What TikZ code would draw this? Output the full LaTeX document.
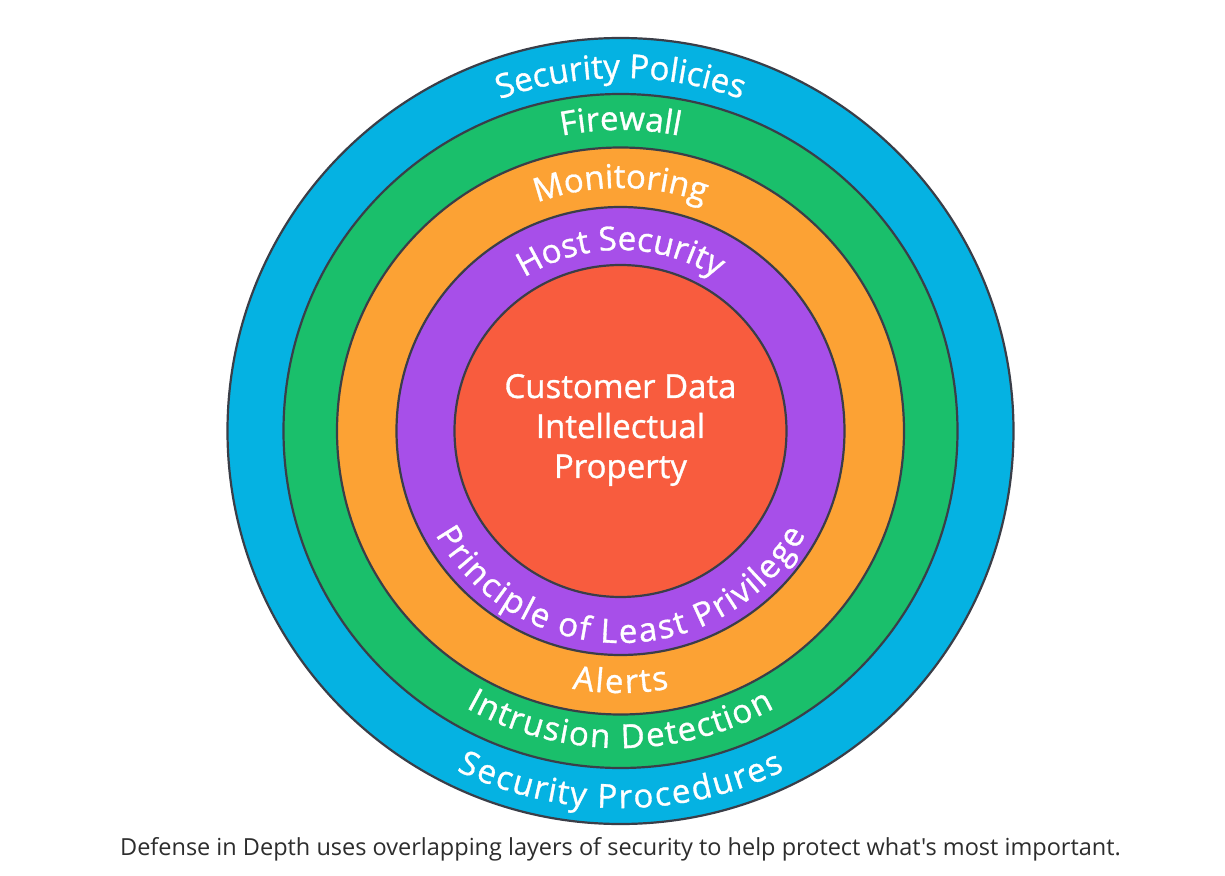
\documentclass[tikz,border=0pt]{standalone}
\usepackage{fontspec}
\setmainfont{Open Sans}
\newfontfamily\opensans{Open Sans}
\newfontfamily\opensansheavy{Open Sans}[FakeBold=1]
\usetikzlibrary{decorations.text}

% layer colours
\definecolor{layerblue}{RGB}{5,178,226}
\definecolor{layergreen}{RGB}{26,191,107}
\definecolor{layerorange}{RGB}{252,162,52}
\definecolor{layerpurple}{RGB}{167,79,233}
\definecolor{layerred}{RGB}{248,92,62}
\definecolor{ringedge}{RGB}{58,62,72}
\definecolor{captiongray}{RGB}{45,45,45}

\newcommand\ringfont{\opensansheavy\fontsize{33}{39}\selectfont}

\begin{document}
\begin{tikzpicture}[x=1pt,y=1pt,
  ring/.style={circle, draw=ringedge, line width=2.2pt, inner sep=0pt},
  % white text set along an arc, centred on the arc
  arclabel/.style={decorate, decoration={text along path,
      text align=center, text color=white, text={|\ringfont|#1}}},
  % same, with the baseline pushed outwards so the letters spread wider
  widelabel/.style 2 args={decorate, decoration={text along path, raise=-#1,
      text align=center, text color=white, text={|\ringfont|#2}}}
]
\useasboundingbox (-620.5,-444) rectangle (604.5,431);
\fill[white] (-620.5,-444) rectangle (604.5,431);

% the five layers, outermost first
\node[ring, fill=layerblue,   minimum size=786pt] (policies)  at (0,0) {};
\node[ring, fill=layergreen,  minimum size=674pt] (firewall)  at (0,0) {};
\node[ring, fill=layerorange, minimum size=567pt] (monitor)   at (0,0) {};
\node[ring, fill=layerpurple, minimum size=448pt] (host)      at (0,0) {};
\node[ring, fill=layerred,    minimum size=332pt] (core)      at (0,0) {};

% upper labels, running clockwise over the top
\path[arclabel={Security Policies}]
  (150:353) arc[start angle=150, end angle=30, radius=353];
\path[arclabel={Firewall}]
  (150:301) arc[start angle=150, end angle=30, radius=301];
\path[arclabel={Monitoring}]
  (150:243) arc[start angle=150, end angle=30, radius=243];
\path[arclabel={Host Security}]
  (160:181) arc[start angle=160, end angle=20, radius=181];

% lower labels, running anticlockwise under the bottom
% (arc radius minus the outward shift gives the baseline radius)
\path[widelabel={24pt}{Principle of Least Privilege}]
  (182:188) arc[start angle=182, end angle=358, radius=188];
\path[widelabel={30pt}{Alerts}]
  (210:232) arc[start angle=210, end angle=330, radius=232];
\path[widelabel={27pt}{Intrusion Detection}]
  (200:290) arc[start angle=200, end angle=340, radius=290];
\path[widelabel={38pt}{Security Procedures}]
  (200:339) arc[start angle=200, end angle=340, radius=339];

% centre text
\node[text=white, align=center, font=\opensansheavy\fontsize{33}{40}\selectfont]
  (coretext) at (0,1) {Customer Data\\Intellectual\\Property};

% caption
\node[anchor=base, text=captiongray, font=\opensans\fontsize{23.5}{28}\selectfont]
  (caption) at (0,-424) {Defense in Depth uses overlapping layers of security to help protect what's most important.};
\end{tikzpicture}
\end{document}
